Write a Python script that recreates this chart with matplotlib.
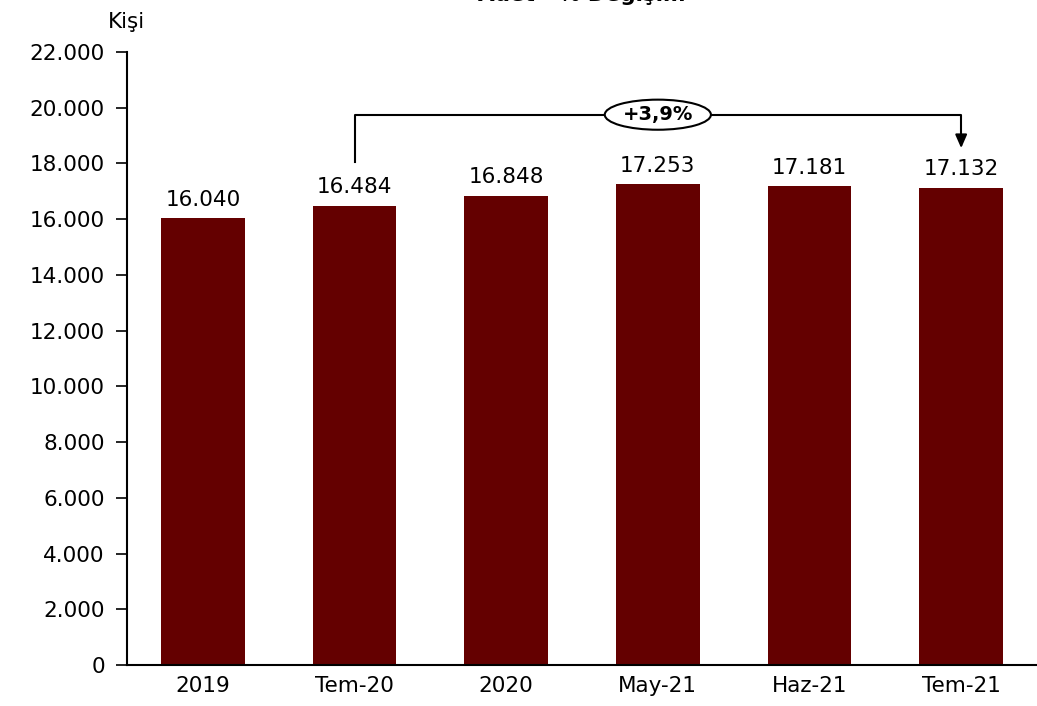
import numpy as np
import matplotlib.pyplot as plt
from matplotlib.patches import Ellipse

categories = ["2019", "Tem-20", "2020", "May-21", "Haz-21", "Tem-21"]
values = [16040, 16484, 16848, 17253, 17181, 17132]
value_labels = ["16.040", "16.484", "16.848", "17.253", "17.181", "17.132"]
yticks = list(range(0, 22001, 2000))
ytick_labels = ["0", "2.000", "4.000", "6.000", "8.000", "10.000", "12.000",
                "14.000", "16.000", "18.000", "20.000", "22.000"]
change_label = "+3,9%"

plt.rcParams['font.family'] = ['DejaVu Sans']

fig = plt.figure(figsize=(10.37, 7.06), dpi=100)
ax = fig.add_axes([127/1037, 1 - 665/706, (1037 - 127)/1037, (665 - 52)/706])

x = np.arange(len(categories))
ax.bar(x, values, width=0.55, color='#640000')
for xi, v, lab in zip(x, values, value_labels):
    ax.text(xi, v + 300, lab, ha='center', va='bottom', fontsize=15.5)

ax.set_xlim(-0.5, 5.5)
ax.set_ylim(0, 22000)
ax.set_yticks(yticks)
ax.set_yticklabels(ytick_labels, fontsize=15.5)
ax.set_xticks(x)
ax.set_xticklabels(categories, fontsize=15.5)
ax.tick_params(axis='x', length=0, pad=8)
ax.tick_params(axis='y', direction='out', length=8, width=1.2, pad=8)
for s in ['top', 'right']:
    ax.spines[s].set_visible(False)
ax.spines['left'].set_linewidth(1.5)
ax.spines['bottom'].set_linewidth(1.5)

# change bracket from Tem-20 to Tem-21
y_top = 19750
ax.plot([1, 1, 5, 5], [18050, y_top, y_top, 19000], color='black', lw=1.5, clip_on=False)
ax.annotate("", xy=(5, 18450), xytext=(5, 19050),
            arrowprops=dict(arrowstyle='-|>,head_width=0.35,head_length=0.8',
                            color='black', lw=1.5))
ax.add_patch(Ellipse((3, y_top), 0.70, 1080, fc='white', ec='black', lw=1.5, zorder=3))
ax.text(3, y_top, change_label, ha='center', va='center', fontsize=14,
        fontweight='bold', zorder=4)

fig.text(108/1037, 1 - 22/706, "Kişi", ha='left', va='center', fontsize=15.5)
fig.text(582/1037, 1 - 1/706, "Adet - % Değişim", ha='center', va='baseline',
         fontsize=15.5, fontweight='bold')

fig.savefig("out.png", dpi=100)
